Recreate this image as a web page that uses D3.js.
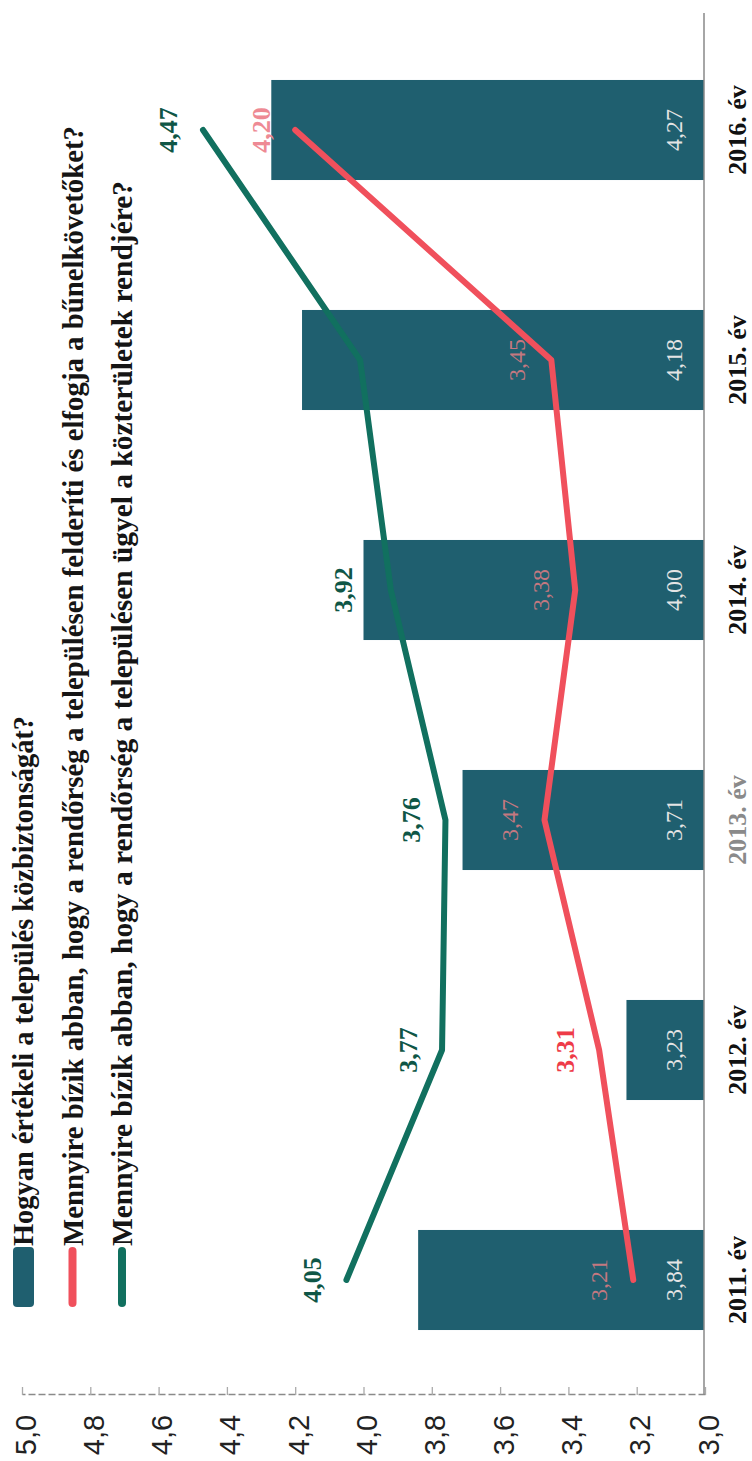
<!DOCTYPE html>
<html>
<head>
<meta charset="utf-8">
<script src="https://cdn.jsdelivr.net/npm/d3@7"></script>
<style>
  html, body { margin: 0; padding: 0; background: #fff; }
  svg { display: block; }
</style>
</head>
<body>
<svg id="chart" width="752" height="1461"></svg>
<script>
// ---------- data ----------
const years = ["2011", "2012", "2013", "2014", "2015", "2016"];
const yearLabels = ["2011. év", "2012. év", "2013. év", "2014. év", "2015. év", "2016. év"];
const barValues = [3.84, 3.23, 3.71, 4.00, 4.18, 4.27];          // Hogyan értékeli a település közbiztonságát?
const redValues = [3.21, 3.31, 3.47, 3.38, 3.45, 4.20];          // ... felderíti és elfogja a bűnelkövetőket?
const greenValues = [4.05, 3.77, 3.76, 3.92, 4.01, 4.47];        // ... ügyel a közterületek rendjére?
const greenLabels = ["4,05", "3,77", "3,76", "3,92", null, "4,47"];
const tickValues = [3.0, 3.2, 3.4, 3.6, 3.8, 4.0, 4.2, 4.4, 4.6, 4.8, 5.0];
const legendLabels = [
  "Hogyan értékeli a település közbiztonságát?",
  "Mennyire bízik abban, hogy a rendőrség a településen felderíti és elfogja a bűnelkövetőket?",
  "Mennyire bízik abban, hogy a rendőrség a településen ügyel a közterületek rendjére?"
];

// ---------- style ----------
const BAR = "#1f5f6f", RED = "#f0505c", GREEN = "#11705f";
const SERIF = "'Liberation Serif','Times New Roman',serif";
const SANS = "'Liberation Sans',Arial,sans-serif";
const comma = v => d3.format(".2f")(v).replace(".", ",");

// The chart is drawn in an unrotated frame (1461 wide x 752 tall), then rotated -90deg.
const svg = d3.select("#chart");
const g = svg.append("g").attr("transform", "translate(0,1461) rotate(-90)");

const x = d3.scaleBand().domain(years).range([66, 1446]).paddingInner(0.565).paddingOuter(0.2825);
const y = d3.scaleLinear().domain([3, 5]).range([705, 22]);
const bw = x.bandwidth();
const cx = d => x(d) + bw / 2;
const baseV = 704;

// value axis (left in unrotated frame)
const yAxis = d3.axisLeft(y).tickValues(tickValues).tickSizeInner(-8).tickSizeOuter(0)
  .tickFormat(d => d3.format(".1f")(d).replace(".", ","));
const ya = g.append("g").attr("transform", "translate(66,0)").call(yAxis);
ya.select(".domain").attr("stroke", "#8a8a8a").attr("stroke-width", 1.3).attr("stroke-dasharray", "7,3");
ya.selectAll(".tick line").attr("stroke", "#aaa").attr("stroke-width", 1.3);
ya.selectAll(".tick text")
  .attr("x", -40).attr("dy", 0).attr("y", 13)
  .attr("text-anchor", "middle")
  .style("font-family", SANS).style("font-size", "29px").attr("fill", "#222");

// bars
g.selectAll("rect.bar").data(years).enter().append("rect")
  .attr("class", "bar")
  .attr("x", d => x(d))
  .attr("width", bw)
  .attr("y", (d, i) => y(barValues[i]))
  .attr("height", (d, i) => baseV - y(barValues[i]))
  .attr("fill", BAR);

// category axis (bottom in unrotated frame)
const xAxis = d3.axisBottom(x).tickSize(0).tickFormat((d, i) => yearLabels[i]);
const xa = g.append("g").attr("transform", `translate(0,${baseV})`).call(xAxis);
xa.select(".domain").attr("stroke", "#888").attr("stroke-width", 1.5)
  .attr("d", "M66,0H1448");
xa.selectAll(".tick text")
  .attr("y", 42).attr("dy", 0)
  .style("font-family", SERIF).style("font-size", "26px").style("font-weight", "bold")
  .attr("fill", (d, i) => i === 2 ? "#8a8a8a" : "#111");

// bar value labels
g.selectAll("text.barlab").data(years).enter().append("text")
  .attr("class", "barlab")
  .attr("x", d => cx(d))
  .attr("y", baseV - 30)
  .attr("text-anchor", "middle").attr("dominant-baseline", "central")
  .style("font-family", SERIF).style("font-size", "24px")
  .attr("fill", "#e4e4e4")
  .text((d, i) => comma(barValues[i]));

// lines
const line = d3.line().curve(d3.curveLinear);
function drawLine(vals, color) {
  g.append("path")
    .attr("d", line(years.map((d, i) => [cx(d), y(vals[i])])))
    .attr("fill", "none").attr("stroke", color).attr("stroke-width", 6)
    .attr("stroke-linejoin", "round").attr("stroke-linecap", "round");
}
drawLine(redValues, RED);
drawLine(greenValues, GREEN);

// red labels
g.selectAll("text.redlab").data(years).enter().append("text")
  .attr("class", "redlab")
  .each(function (d, i) {
    const v = y(redValues[i]) - 34;
    const inside = v > y(barValues[i]);
    d3.select(this)
      .attr("x", cx(d)).attr("y", v)
      .attr("text-anchor", "middle").attr("dominant-baseline", "central")
      .style("font-family", SERIF)
      .style("font-size", inside ? "24px" : "26px")
      .style("font-weight", inside ? "normal" : "bold")
      .attr("fill", inside ? "#c47880" : (i === 5 ? "#ee8a94" : "#ee3b48"))
      .text(comma(redValues[i]));
  });

// green labels
g.selectAll("text.greenlab").data(years.filter((d, i) => greenLabels[i])).enter().append("text")
  .attr("class", "greenlab")
  .each(function (d) {
    const i = years.indexOf(d);
    const v = Math.min(y(greenValues[i]) - 34, y(barValues[i]) - 20);
    d3.select(this)
      .attr("x", cx(d)).attr("y", v)
      .attr("text-anchor", "middle").attr("dominant-baseline", "central")
      .style("font-family", SERIF).style("font-size", "26px").style("font-weight", "bold")
      .attr("fill", "#0f5646")
      .text(greenLabels[i]);
  });

// legend
const legendX = 154, legendTextX = 215;
const legendRows = [33, 83, 132];
const legendLens = [530, 1120, 1065];
const lg = g.append("g");
lg.append("rect").attr("x", legendX).attr("y", 13).attr("width", 60).attr("height", 21)
  .attr("rx", 4).attr("fill", BAR);
lg.append("line").attr("x1", legendX + 4).attr("x2", legendX + 56).attr("y1", 72.5).attr("y2", 72.5)
  .attr("stroke", RED).attr("stroke-width", 8).attr("stroke-linecap", "round");
lg.append("line").attr("x1", legendX + 4).attr("x2", legendX + 56).attr("y1", 122).attr("y2", 122)
  .attr("stroke", GREEN).attr("stroke-width", 8).attr("stroke-linecap", "round");
lg.selectAll("text.leg").data(legendLabels).enter().append("text")
  .attr("class", "leg")
  .attr("x", legendTextX)
  .attr("y", (d, i) => legendRows[i])
  .attr("textLength", (d, i) => legendLens[i])
  .attr("lengthAdjust", "spacingAndGlyphs")
  .style("font-family", SERIF).style("font-size", "29px").style("font-weight", "bold")
  .attr("fill", "#151515")
  .text(d => d);
</script>
</body>
</html>
